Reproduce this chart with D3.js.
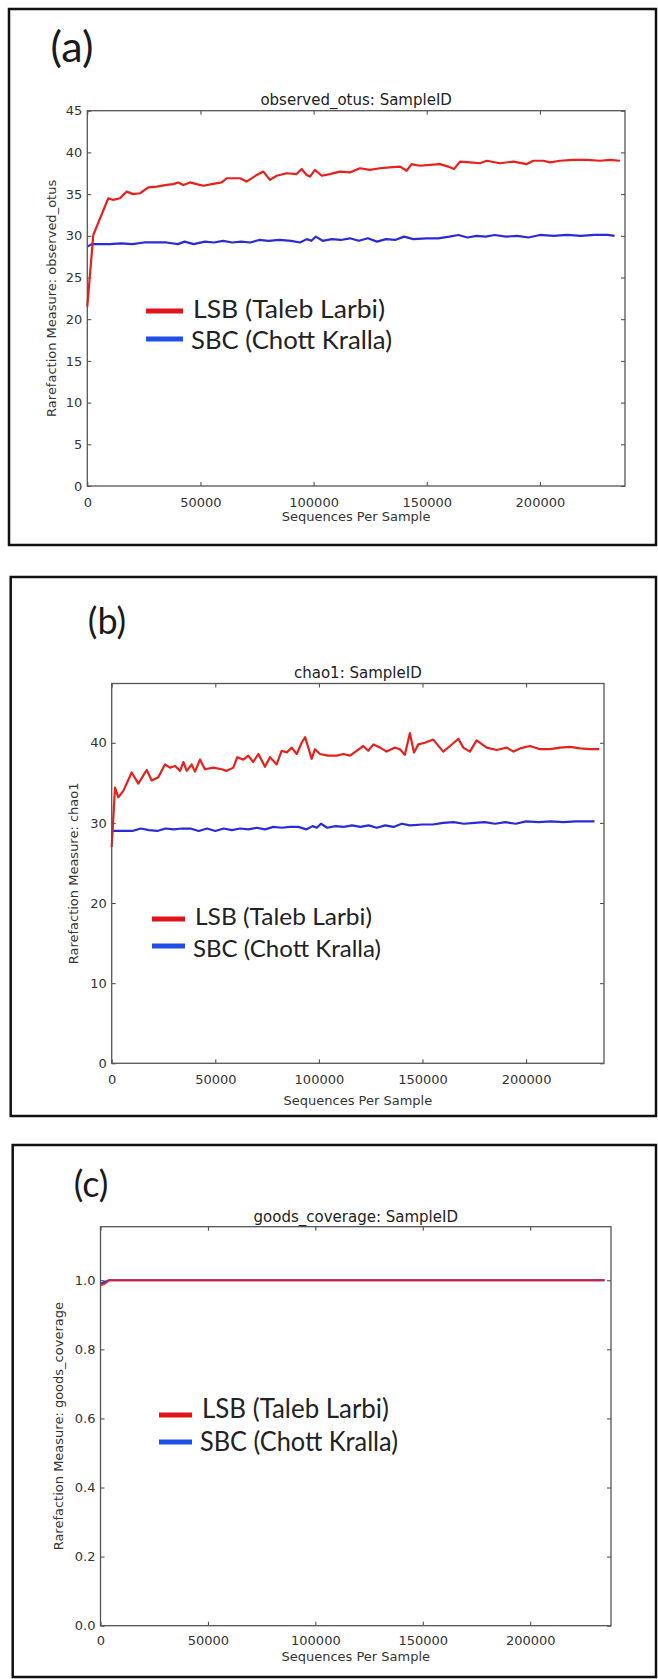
<!DOCTYPE html>
<html><head><meta charset="utf-8">
<script src="https://cdn.jsdelivr.net/npm/d3@7"></script>
<style>body{margin:0;background:#fff} svg{display:block}</style>
</head><body><svg id="chart" width="658" height="1679"></svg>
<script>
// ---------- DATA ----------
const seriesNames = ["LSB (Taleb Larbi)", "SBC (Chott Kralla)"];
const xTicks = [0, 50000, 100000, 150000, 200000];
const xTickLabels = ["0", "50000", "100000", "150000", "200000"];

// (a) observed_otus
const aRedX = [0,2650,4150,9280,11500,14450,17400,20300,23300,27000,30700,35100,38000,40200,42400,45400,48300,51300,55000,59400,61600,67500,70400,74900,77800,80700,83700,88100,92500,94700,96900,98400,100600,103600,107200,111600,116000,120500,124900,129300,133700,138200,141100,143300,147000,151400,155800,159500,162000,164700,169100,173500,176500,182400,188300,194200,197100,201500,204500,208900,214800,220700,226600,231000,235400];
const aRedY = [21.5,30.1,31.1,34.5,34.3,34.5,35.3,35.0,35.1,35.8,35.9,36.1,36.2,36.4,36.1,36.4,36.2,36.0,36.2,36.4,36.9,36.9,36.5,37.3,37.7,36.7,37.2,37.5,37.4,38.0,37.3,37.1,37.9,37.2,37.4,37.7,37.6,38.1,37.9,38.1,38.2,38.3,37.8,38.6,38.4,38.5,38.6,38.3,38.0,38.9,38.8,38.7,39.0,38.7,38.9,38.6,39.0,39.0,38.8,39.0,39.1,39.1,39.0,39.1,39.0];
const aBlueX = [0,2000,10000,15000,20000,25000,30000,35000,40000,43000,47000,52000,56000,60000,64000,68000,72000,76000,80000,85000,90000,94000,97000,99000,101000,104000,108000,112000,116000,120000,124000,128000,132000,136000,140000,144000,150000,155000,160000,164000,168000,172000,176000,180000,185000,190000,195000,200000,206000,212000,218000,224000,230000,233000];
const aBlueY = [28.7,29.0,29.0,29.1,29.0,29.2,29.2,29.2,29.0,29.3,29.0,29.3,29.2,29.4,29.2,29.3,29.2,29.5,29.4,29.5,29.4,29.2,29.6,29.4,29.9,29.4,29.6,29.5,29.7,29.4,29.7,29.3,29.6,29.5,29.9,29.6,29.7,29.7,29.9,30.1,29.8,30.0,29.9,30.1,29.9,30.0,29.8,30.1,30.0,30.1,30.0,30.1,30.1,30.0];
const aYTicks = [0, 5, 10, 15, 20, 25, 30, 35, 40, 45];

// (b) chao1
const bRedX = [0,1600,3200,5600,9650,12850,16900,19300,22500,25700,28100,30600,33000,34600,36200,38600,40200,42600,45000,49000,53100,55500,58700,60600,63500,65900,68300,70800,74000,76400,79600,82000,84500,86900,89300,91700,93300,94900,96500,98100,100500,104500,108600,111800,115000,118200,121400,123800,126300,129500,132700,136700,139100,141500,143900,145900,148000,151200,155200,160000,163300,167300,169700,172900,176100,181000,185800,190600,193900,197100,201900,206800,211600,216400,221200,226100,230900,235300];
const bRedY = [27.0,34.4,33.2,34.0,36.3,34.9,36.6,35.3,35.7,37.3,36.9,37.1,36.5,37.6,36.5,37.3,36.4,37.9,36.7,36.9,36.7,36.5,36.9,38.2,37.9,38.4,37.6,38.6,37.0,38.2,37.3,39.0,38.8,39.4,38.6,40.0,40.7,39.4,38.0,39.2,38.6,38.4,38.4,38.6,38.4,39.0,39.6,39.0,39.8,39.4,38.9,39.4,39.2,38.5,41.2,38.8,39.8,40.0,40.4,38.9,39.6,40.5,39.4,38.9,40.3,39.4,39.1,39.4,38.9,39.3,39.6,39.2,39.2,39.4,39.5,39.3,39.2,39.2];
const bBlueX = [0,5000,10000,14000,18000,22000,26000,30000,34000,38000,42000,46000,50000,54000,58000,62000,66000,70000,74000,78000,82000,86000,90000,94000,97000,99000,101000,104000,108000,112000,116000,120000,124000,128000,132000,136000,140000,144000,150000,155000,160000,165000,170000,175000,180000,185000,190000,195000,200000,206000,212000,218000,224000,230000,233000];
const bBlueY = [29.0,29.0,29.0,29.3,29.1,29.0,29.3,29.2,29.3,29.3,29.0,29.3,29.0,29.3,29.1,29.3,29.2,29.4,29.2,29.5,29.4,29.5,29.5,29.2,29.6,29.4,29.9,29.4,29.6,29.5,29.7,29.5,29.7,29.4,29.7,29.5,29.9,29.7,29.8,29.8,30.0,30.1,29.9,30.0,30.1,29.9,30.1,29.9,30.2,30.1,30.2,30.1,30.2,30.2,30.2];
const bYTicks = [0, 10, 20, 30, 40];

// (c) goods_coverage
const cRedX = [0, 2000, 4000, 50000, 100000, 150000, 200000, 234600];
const cRedY = [0.985, 0.99, 1.0, 1.0, 1.0, 1.0, 1.0, 1.0];
const cBlueX = [0, 2000, 4000, 50000, 100000, 150000, 200000, 234600];
const cBlueY = [0.99, 0.995, 1.0, 1.0, 1.0, 1.0, 1.0, 1.0];
const cYTicks = [0, 0.2, 0.4, 0.6, 0.8, 1.0];
const cYTickLabels = ["0.0", "0.2", "0.4", "0.6", "0.8", "1.0"];

// ---------- LAYOUT ----------
const panels = [
  { label: "(a)", labelX: 72, labelY: 62, labelSize: 43,
    box: [9, 9, 656, 545],
    L: 87.3, R: 625, T: 110.7, B: 486, xMax: 237600, yMax: 45,
    yTicks: aYTicks, yFmt: d => String(d),
    title: "observed_otus: SampleID", titleY: 105,
    ylabel: "Rarefaction Measure: observed_otus", ylabelX: 51,
    xTickY: 502, xlabelY: 521, redOpacity: 1,
    red: [aRedX, aRedY], blue: [aBlueX, aBlueY],
    leg: { x1: 146, x2: 183, y1: 311, y2: 339, tx: 193, t1: 318, t2: 349, w1: 192, w2: 201, size: 25 } },
  { label: "(b)", labelX: 107, labelY: 634, labelSize: 36,
    box: [10.7, 577, 656, 1116],
    L: 111.7, R: 604, T: 683.5, B: 1063.3, xMax: 237600, yMax: 47.4,
    yTicks: bYTicks, yFmt: d => String(d),
    title: "chao1: SampleID", titleY: 678,
    ylabel: "Rarefaction Measure: chao1", ylabelX: 73,
    xTickY: 1080, xlabelY: 1105, redOpacity: 1,
    red: [bRedX, bRedY], blue: [bBlueX, bBlueY],
    leg: { x1: 152, x2: 185, y1: 919, y2: 946, tx: 195, t1: 925, t2: 957, w1: 177, w2: 188, size: 24 } },
  { label: "(c)", labelX: 91, labelY: 1197, labelSize: 36,
    box: [12.7, 1145, 656, 1677],
    L: 100.5, R: 611, T: 1226.7, B: 1625.7, xMax: 237600, yMax: 1.155,
    yTicks: cYTicks, yFmt: d => cYTickLabels[cYTicks.indexOf(d)],
    title: "goods_coverage: SampleID", titleY: 1221.7,
    ylabel: "Rarefaction Measure: goods_coverage", ylabelX: 58,
    xTickY: 1641, xlabelY: 1661, redOpacity: 0.85,
    red: [cRedX, cRedY], blue: [cBlueX, cBlueY],
    leg: { x1: 159, x2: 192, y1: 1415, y2: 1442, tx: 202, t1: 1418, t2: 1451, w1: 187, w2: 198, size: 26 } }
];

const svg = d3.select("#chart");
svg.append("rect").attr("width", 658).attr("height", 1679).attr("fill", "#fff");

const axisFont = "'DejaVu Sans', sans-serif";
const legFont = "Lato, 'Open Sans', sans-serif";

panels.forEach(p => {
  const g = svg.append("g");
  const [bx1, by1, bx2, by2] = p.box;
  g.append("rect").attr("x", bx1).attr("y", by1).attr("width", bx2 - bx1).attr("height", by2 - by1)
    .attr("fill", "none").attr("stroke", "#111").attr("stroke-width", 2.5);

  g.append("text").attr("x", p.labelX).attr("y", p.labelY).attr("text-anchor", "middle")
    .attr("font-family", legFont).attr("font-size", p.labelSize).attr("fill", "#1a1a1a").text(p.label);

  const x = d3.scaleLinear().domain([0, p.xMax]).range([p.L, p.R]);
  const y = d3.scaleLinear().domain([0, p.yMax]).range([p.B, p.T]);

  const xb = g.append("g").attr("transform", `translate(0,${p.B})`)
    .call(d3.axisBottom(x).tickValues(xTicks).tickFormat((d, i) => xTickLabels[i]).tickSize(-4).tickPadding(7));
  xb.select(".domain").remove();
  xb.selectAll("text").attr("font-family", axisFont).attr("font-size", 13).attr("fill", "#333").attr("dy", null)
    .attr("y", p.xTickY - p.B + 4.5);
  const xt = g.append("g").attr("transform", `translate(0,${p.T})`)
    .call(d3.axisTop(x).tickValues(xTicks).tickFormat("").tickSize(-4));
  xt.select(".domain").remove();
  const yl = g.append("g").attr("transform", `translate(${p.L},0)`)
    .call(d3.axisLeft(y).tickValues(p.yTicks).tickFormat(p.yFmt).tickSize(-4).tickPadding(5));
  yl.select(".domain").remove();
  yl.selectAll("text").attr("font-family", axisFont).attr("font-size", 13).attr("fill", "#333");
  const yr = g.append("g").attr("transform", `translate(${p.R},0)`)
    .call(d3.axisRight(y).tickValues(p.yTicks).tickFormat("").tickSize(-4));
  yr.select(".domain").remove();
  g.selectAll(".tick line").attr("stroke", "#444").attr("stroke-width", 1);

  const line = d3.line().x(d => x(d[0])).y(d => y(d[1]));
  const blueData = p.blue[0].map((v, i) => [v, p.blue[1][i]]);
  const redData = p.red[0].map((v, i) => [v, p.red[1][i]]);
  g.append("path").datum(blueData).attr("d", line).attr("fill", "none")
    .attr("stroke", "#2a2ad8").attr("stroke-width", 2.2).attr("stroke-linejoin", "round");
  g.append("path").datum(redData).attr("d", line).attr("fill", "none")
    .attr("stroke", "#e8201c").attr("stroke-opacity", p.redOpacity).attr("stroke-width", 2.2).attr("stroke-linejoin", "round");

  g.append("rect").attr("x", p.L).attr("y", p.T).attr("width", p.R - p.L).attr("height", p.B - p.T)
    .attr("fill", "none").attr("stroke", "#555").attr("stroke-width", 1.3);

  g.append("text").attr("x", (p.L + p.R) / 2).attr("y", p.titleY).attr("text-anchor", "middle")
    .attr("font-family", axisFont).attr("font-size", 15).attr("fill", "#222").text(p.title);
  g.append("text").attr("x", (p.L + p.R) / 2).attr("y", p.xlabelY).attr("text-anchor", "middle")
    .attr("font-family", axisFont).attr("font-size", 13).attr("fill", "#333").text("Sequences Per Sample");
  g.append("text").attr("transform", `translate(${p.ylabelX},${(p.T + p.B) / 2}) rotate(-90)`)
    .attr("text-anchor", "middle").attr("dy", "0.35em")
    .attr("font-family", axisFont).attr("font-size", 13).attr("fill", "#333").text(p.ylabel);

  const lg = p.leg;
  g.append("line").attr("x1", lg.x1).attr("x2", lg.x2).attr("y1", lg.y1).attr("y2", lg.y1)
    .attr("stroke", "#e0141a").attr("stroke-width", 5);
  g.append("line").attr("x1", lg.x1).attr("x2", lg.x2).attr("y1", lg.y2).attr("y2", lg.y2)
    .attr("stroke", "#1f4fe6").attr("stroke-width", 5);
  g.append("text").attr("x", lg.tx).attr("y", lg.t1).attr("font-family", legFont).attr("font-size", lg.size)
    .attr("fill", "#222").attr("textLength", lg.w1).attr("lengthAdjust", "spacingAndGlyphs").text(seriesNames[0]);
  g.append("text").attr("x", lg.tx - 2).attr("y", lg.t2).attr("font-family", legFont).attr("font-size", lg.size)
    .attr("fill", "#222").attr("textLength", lg.w2).attr("lengthAdjust", "spacingAndGlyphs").text(seriesNames[1]);
});
</script></body></html>
